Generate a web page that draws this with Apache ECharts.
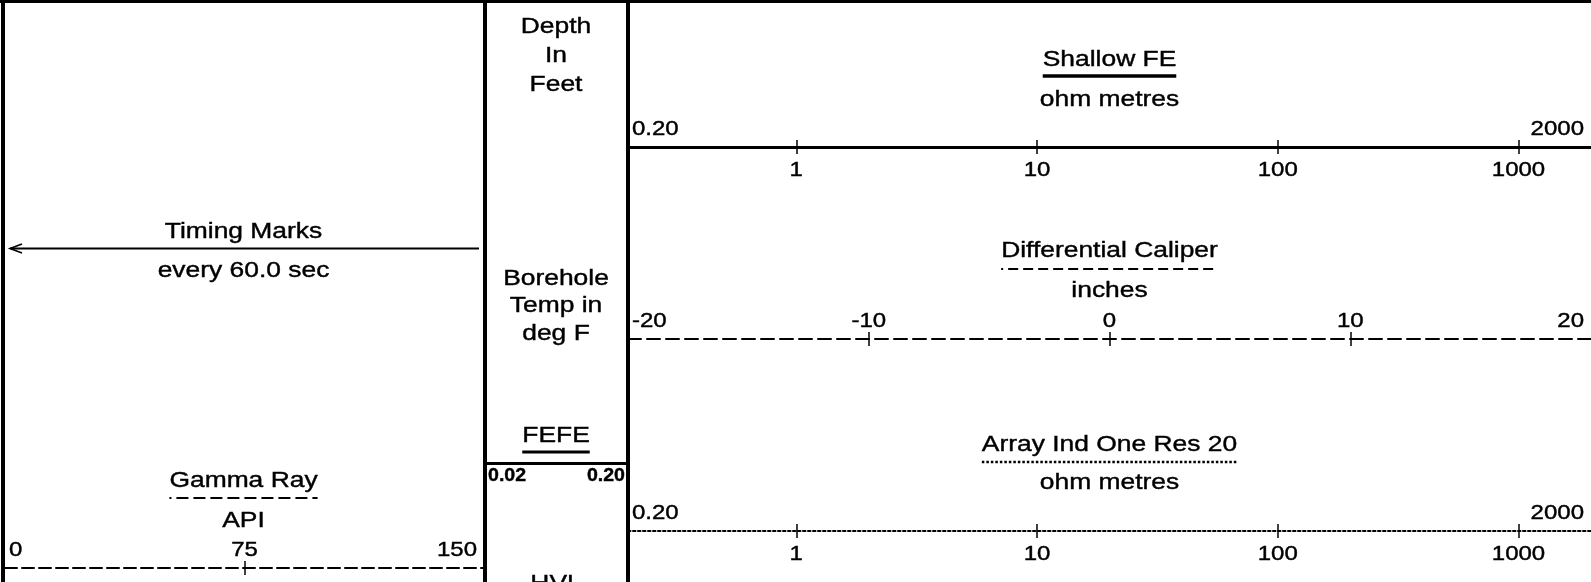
<!DOCTYPE html>
<html>
<head>
<meta charset="utf-8">
<title>Log Header</title>
<script src="https://cdn.jsdelivr.net/npm/echarts@6/dist/echarts.min.js"></script>
<style>
  html, body { margin: 0; padding: 0; background: #fff; }
  #chart { width: 1591px; height: 582px; }
</style>
</head>
<body>
<div id="chart"></div>
<script>
// ---- curve scales of the log header ----
const resistivityRange = [0.2, 2000];
const resistivityTicks = [1, 10, 100, 1000];
const resistivityEnds = ['0.20', '2000'];

const caliperRange = [-20, 20];
const caliperTicks = [-10, 0, 10];
const caliperEnds = ['-20', '20'];

const gammaRange = [0, 150];
const gammaTicks = [75];
const gammaEnds = ['0', '150'];

const fefeRange = [0.02, 0.2];
const fefeEnds = ['0.02', '0.20'];

// ---- header captions ----
const depthCaption = ['Depth', 'In', 'Feet'];
const tempCaption = ['Borehole', 'Temp in', 'deg F'];
const timingCaption = ['Timing Marks', 'every 60.0 sec'];

const FONT = '"Liberation Sans", Arial, Helvetica, sans-serif';
const STRETCH = 1.2;   // the header lettering is set wide
const BLACK = '#000';

// one entry per scale bar: axis geometry and line style
const scales = [
  { title: 'Shallow FE', unit: 'ohm metres', type: 'log', range: resistivityRange, ticks: resistivityTicks,
    ends: resistivityEnds, left: 628, width: 963, lineY: 147, line: { width: 3, type: 'solid' },
    tickSide: 'below', titleX: 1109.5, titleY: 60, ruleY: 76, unitY: 100,
    rule: { lineWidth: 3.5 } },
  { title: 'Differential Caliper', unit: 'inches', type: 'value', range: caliperRange, ticks: caliperTicks,
    ends: caliperEnds, left: 628, width: 963, lineY: 339, line: { width: 2, type: [13, 6] },
    tickSide: 'above', titleX: 1109.5, titleY: 251, ruleY: 269, unitY: 291,
    rule: { lineWidth: 2, lineDash: [10, 5], lineDashOffset: 8 } },
  { title: 'Array Ind One Res 20', unit: 'ohm metres', type: 'log', range: resistivityRange, ticks: resistivityTicks,
    ends: resistivityEnds, left: 628, width: 963, lineY: 531, line: { width: 2, type: [2.5, 2.5] },
    tickSide: 'below', titleX: 1109.5, titleY: 445, ruleY: 462, unitY: 483,
    rule: { lineWidth: 2.5, lineDash: [2.5, 2] } },
  { title: 'Gamma Ray', unit: 'API', type: 'value', range: gammaRange, ticks: gammaTicks,
    ends: gammaEnds, left: 5, width: 479, lineY: 568, line: { width: 2, type: [12, 5] },
    tickSide: 'above', titleX: 243.5, titleY: 481, ruleY: 498, unitY: 521,
    rule: { lineWidth: 2, lineDash: [12, 5], lineDashOffset: 10 } },
  { title: 'FEFE', unit: null, type: 'log', range: fefeRange, ticks: [],
    ends: fefeEnds, left: 485, width: 143, lineY: 463, line: { width: 3, type: 'solid' },
    tickSide: 'none', endsBelow: true, titleX: 556, titleY: 436, ruleY: 452,
    rule: { lineWidth: 3 } }
];

const chart = echarts.init(document.getElementById('chart'), null, { renderer: 'canvas' });

// each scale bar uses two coincident grids whose bottom edge is the scale
// line: the first draws the line with ticks hanging down, the second adds
// the upward half of each tick
const grids = [], xAxes = [], yAxes = [];
scales.forEach((s) => {
  const base = {
    type: s.type, min: s.range[0], max: s.range[1], position: 'bottom',
    axisLabel: { show: false }, splitLine: { show: false }, silent: true
  };
  if (s.type === 'log') base.logBase = 10;
  const tick = (inside) => ({
    show: s.ticks.length > 0, customValues: s.ticks, inside, length: 7,
    lineStyle: { color: BLACK, width: 1.5, type: 'solid' }
  });

  [false, true].forEach((inside) => {
    const gi = grids.length;
    grids.push({ left: s.left, width: s.width, top: s.lineY - 10, height: 10 });
    yAxes.push({ gridIndex: gi, type: 'value', show: false });
    xAxes.push(Object.assign({}, base, {
      gridIndex: gi,
      axisLine: {
        show: true,
        lineStyle: { color: BLACK, width: s.line.width, type: s.line.type, opacity: inside ? 0 : 1 }
      },
      axisTick: tick(inside)
    }));
  });
});

chart.setOption({
  animation: false,
  backgroundColor: '#fff',
  grid: grids,
  xAxis: xAxes,
  yAxis: yAxes,
  series: []
});

// ---- lettering and frame ----
const measureCtx = document.createElement('canvas').getContext('2d');
function textWidth(str, size) {
  measureCtx.font = size + 'px ' + FONT;
  return measureCtx.measureText(str).width * STRETCH;
}
function txt(str, x, y, opt) {
  opt = opt || {};
  return {
    type: 'text', x, y, scaleX: opt.scale == null ? STRETCH : opt.scale, silent: true, z: 20,
    style: {
      text: str, x: 0, y: 0, fill: BLACK, stroke: BLACK, lineWidth: 0.4,
      fontSize: opt.size || 22, fontFamily: FONT, fontWeight: opt.weight || 'normal',
      align: opt.align || 'center', verticalAlign: 'middle'
    }
  };
}
function seg(x1, y1, x2, y2, style) {
  return {
    type: 'line', silent: true, z: 20,
    shape: { x1, y1, x2, y2 },
    style: Object.assign({ stroke: BLACK, lineWidth: 2 }, style)
  };
}
function block(x, y, w, h) {
  return { type: 'rect', silent: true, z: 30, shape: { x, y, width: w, height: h }, style: { fill: BLACK } };
}

const g = [];

// frame: top rule, outer edge and column dividers
g.push(block(0, 0, 1591, 3));
g.push(block(1, 0, 4, 582));
g.push(block(483, 0, 4, 582));
g.push(block(626, 0, 4, 582));

// depth column captions
[27, 55.5, 85].forEach((y, k) => g.push(txt(depthCaption[k], 556, y)));
[279, 306, 334].forEach((y, k) => g.push(txt(tempCaption[k], 556, y)));
g.push(txt('HVL', 556, 584));

// timing marks with leftward arrow
g.push(txt(timingCaption[0], 243.5, 232));
g.push(seg(10, 248.5, 479, 248.5, { lineWidth: 2 }));
g.push({
  type: 'polyline', silent: true, z: 20,
  shape: { points: [[22, 244], [10, 248.5], [22, 253]] },
  style: { stroke: BLACK, lineWidth: 1.6, fill: null }
});
g.push(txt(timingCaption[1], 243.5, 271));

// scale titles, line-style samples, units and numbers
scales.forEach((s, i) => {
  const idx = i * 2;
  const px = v => chart.convertToPixel({ xAxisIndex: idx }, v);

  g.push(txt(s.title, s.titleX, s.titleY));
  const w = textWidth(s.title, 22);
  g.push(seg(s.titleX - w / 2, s.ruleY, s.titleX + w / 2, s.ruleY, s.rule));
  if (s.unit) g.push(txt(s.unit, s.titleX, s.unitY));

  const x0 = px(s.range[0]), x1 = px(s.range[1]);
  if (s.endsBelow) {
    const y = s.lineY + 13;
    g.push(txt(s.ends[0], x0 + 3, y, { align: 'left', size: 19, weight: 'bold', scale: 1.03 }));
    g.push(txt(s.ends[1], x1 - 3, y, { align: 'right', size: 19, weight: 'bold', scale: 1.03 }));
  } else {
    const y = s.lineY - 18;
    g.push(txt(s.ends[0], x0 + 4, y, { align: 'left', size: 20 }));
    g.push(txt(s.ends[1], x1 - 7, y, { align: 'right', size: 20 }));
  }

  const ty = s.tickSide === 'below' ? s.lineY + 23 : s.lineY - 18;
  s.ticks.forEach(v => g.push(txt(String(v), px(v), ty, { size: 20 })));
});

chart.setOption({ graphic: { elements: g } });
</script>
</body>
</html>
